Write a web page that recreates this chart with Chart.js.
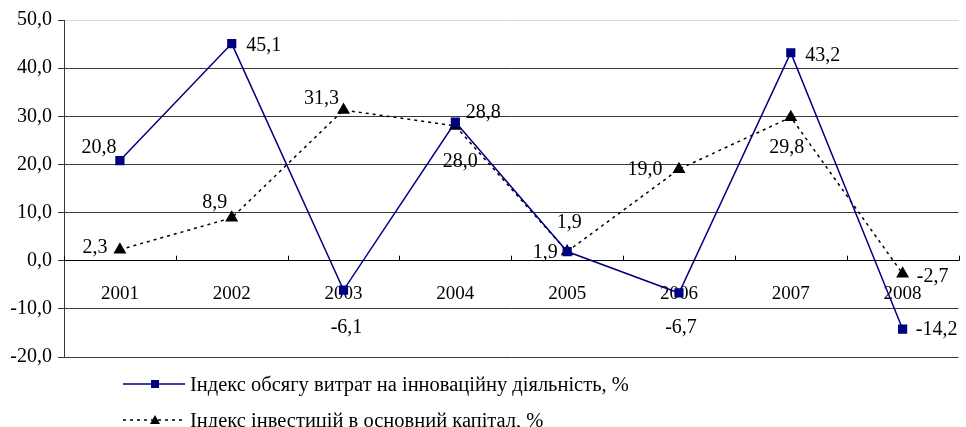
<!DOCTYPE html>
<html>
<head>
<meta charset="utf-8">
<script src="https://cdn.jsdelivr.net/npm/chart.js@4/dist/chart.umd.min.js"></script>
<style>
  html, body { margin: 0; padding: 0; background: #fff; }
  #wrap { position: relative; width: 966px; height: 427px; }
  #legend { position: absolute; left: 123px; top: 366px; font-family: 'Liberation Serif', 'Times New Roman', serif; font-size: 20.5px; color: #000; }
  .legend-row { display: flex; align-items: center; height: 36px; }
  .legend-row svg { margin-right: 5px; }
</style>
</head>
<body>
<div id="wrap">
  <canvas id="chart" width="966" height="427"></canvas>
  <div id="legend">
    <div class="legend-row">
      <svg width="62" height="12"><line x1="0" y1="6" x2="62" y2="6" stroke="#000080" stroke-width="1.5"/><rect x="28" y="2" width="8" height="8" fill="#000080"/></svg>
      <span>Індекс обсягу витрат на інноваційну діяльність, %</span>
    </div>
    <div class="legend-row">
      <svg width="62" height="12"><line x1="0" y1="6" x2="62" y2="6" stroke="#000" stroke-width="1.5" stroke-dasharray="3,4"/><polygon points="32,1 37,10 27,10" fill="#000"/></svg>
      <span>Індекс інвестицій в основний капітал, %</span>
    </div>
  </div>
</div>
<script>
const years = ['2001', '2002', '2003', '2004', '2005', '2006', '2007', '2008'];
const innovationIndex = [20.8, 45.1, -6.1, 28.8, 1.9, -6.7, 43.2, -14.2];
const investmentIndex = [2.3, 8.9, 31.3, 28.0, 1.9, 19.0, 29.8, -2.7];
const yTicks = [-20, -10, 0, 10, 20, 30, 40, 50];

// label centre offsets from the point, [dx, dy]
const innovationLabelPos = [[-21, -13], [32, 2], [3, 38], [28, -9], [-22, 1], [2, 35], [32, 3], [34, 1]];
const investmentLabelPos = [[-25, -2], [-17, -15], [-22, -11], [5, 36], [2, -29], [-34, 1], [-4, 31], [30, 3]];

const FONT = "'Liberation Serif', 'Times New Roman', serif";
const fmt = v => v.toFixed(1).replace('.', ',');

const dataLabels = {
  id: 'dataLabels',
  afterDatasetsDraw(chart) {
    const ctx = chart.ctx;
    ctx.save();
    ctx.font = '20px ' + FONT;
    ctx.fillStyle = '#000';
    ctx.textAlign = 'center';
    ctx.textBaseline = 'middle';
    const offsets = [innovationLabelPos, investmentLabelPos];
    chart.data.datasets.forEach((ds, di) => {
      const meta = chart.getDatasetMeta(di);
      meta.data.forEach((pt, i) => {
        const o = offsets[di][i];
        ctx.fillText(fmt(ds.data[i]), pt.x + o[0], pt.y + o[1]);
      });
    });
    ctx.restore();
  }
};

// small upward tick marks on the zero line between categories
const categoryTicks = {
  id: 'categoryTicks',
  beforeDatasetsDraw(chart) {
    const x = chart.scales.x, y = chart.scales.y;
    const ctx = chart.ctx;
    const y0 = y.getPixelForValue(0);
    const step = x.getPixelForValue(1) - x.getPixelForValue(0);
    ctx.save();
    ctx.strokeStyle = '#000';
    ctx.lineWidth = 1;
    ctx.beginPath();
    for (let i = 0; i <= years.length; i++) {
      const px = Math.round(x.getPixelForValue(0) - step / 2 + i * step) + 0.5;
      ctx.moveTo(px, y0);
      ctx.lineTo(px, y0 - 5);
    }
    ctx.stroke();
    ctx.restore();
  }
};

new Chart(document.getElementById('chart'), {
  type: 'line',
  data: {
    labels: years,
    datasets: [{
      label: 'Індекс обсягу витрат на інноваційну діяльність, %',
      data: innovationIndex,
      borderColor: '#000080',
      backgroundColor: '#000080',
      borderWidth: 1.5,
      pointStyle: 'rect',
      pointRadius: 6.5,
      pointBorderWidth: 0,
      tension: 0
    }, {
      label: 'Індекс інвестицій в основний капітал, %',
      data: investmentIndex,
      borderColor: '#000',
      backgroundColor: '#000',
      borderWidth: 1.5,
      borderDash: [3, 4],
      pointStyle: 'triangle',
      pointRadius: 7.5,
      pointBorderWidth: 0,
      tension: 0
    }]
  },
  options: {
    responsive: false,
    animation: false,
    layout: { padding: { top: 20, right: 0, bottom: 70, left: 0 } },
    plugins: { legend: { display: false }, tooltip: { enabled: false } },
    scales: {
      x: {
        type: 'category',
        position: { y: 0 },
        offset: true,
        grid: { display: false, drawTicks: false },
        border: { display: true, color: '#000', width: 1 },
        ticks: { color: '#000', font: { family: FONT, size: 19 }, padding: 22, maxRotation: 0 }
      },
      y: {
        min: -20,
        max: 50,
        afterBuildTicks: s => { s.ticks = yTicks.map(v => ({ value: v })); },
        afterFit: s => { s.width = 64; },
        grid: {
          color: c => c.tick && c.tick.value === 50 ? '#d8d8d8' : '#3a3a3a',
          tickColor: '#3a3a3a',
          tickLength: 6
        },
        border: { display: true, color: '#3a3a3a', width: 1 },
        ticks: { color: '#000', font: { family: FONT, size: 20 }, padding: 6, callback: v => fmt(v) }
      }
    }
  },
  plugins: [categoryTicks, dataLabels]
});
</script>
</body>
</html>
